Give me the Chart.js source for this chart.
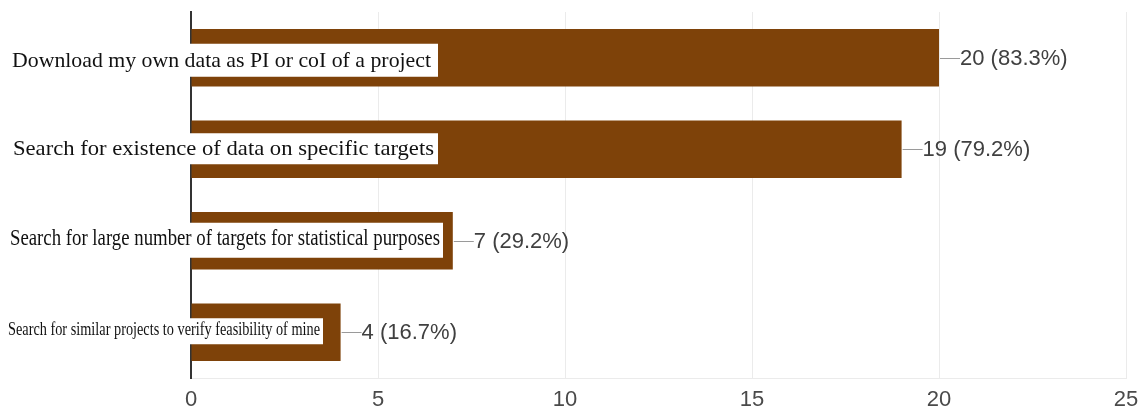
<!DOCTYPE html>
<html><head><meta charset="utf-8">
<script src="https://cdn.jsdelivr.net/npm/chart.js@4"></script>
<style>html,body{margin:0;padding:0;background:#fff}#wrap{width:1139px;height:412px;position:relative}</style>
</head><body><div id="wrap"><canvas id="c" width="1139" height="412"></canvas></div>
<script>
const categories = [
  "Download my own data as PI or coI of a project",
  "Search for existence of data on specific targets",
  "Search for large number of targets for statistical purposes",
  "Search for similar projects to verify feasibility of mine"
];
const counts = [20, 19, 7, 4];
const percents = ["83.3%", "79.2%", "29.2%", "16.7%"];
const xTicks = [0, 5, 10, 15, 20, 25];

// label box styling (offsets relative to category centre)
const labelStyle = [
  {boxL: 0, boxR: 438, top: -14, bottom: 19, tx: 12, tw: 419, size: 22, base: 9},
  {boxL: 0, boxR: 438, top: -16, bottom: 15, tx: 13, tw: 421, size: 22, base: 6},
  {boxL: 0, boxR: 443, top: -18, bottom: 17, tx: 10, tw: 430, size: 24, base: 4},
  {boxL: 0, boxR: 323, top: -14, bottom: 12, tx: 8,  tw: 312, size: 18, base: 3}
];

const labelBoxPlugin = {
  id: 'labelBoxes',
  afterDatasetsDraw(chart) {
    const ctx = chart.ctx;
    const ys = chart.scales.y;
    categories.forEach((txt, i) => {
      const s = labelStyle[i];
      const c = ys.getPixelForValue(i);
      ctx.save();
      ctx.fillStyle = '#ffffff';
      ctx.fillRect(s.boxL, c + s.top, s.boxR - s.boxL, s.bottom - s.top);
      ctx.font = s.size + 'px "Liberation Serif", "Times New Roman", serif';
      ctx.fillStyle = '#111111';
      ctx.textBaseline = 'alphabetic';
      const w = ctx.measureText(txt).width;
      ctx.translate(s.tx, c + s.base);
      ctx.scale(s.tw / w, 1);
      ctx.fillText(txt, 0, 0);
      ctx.restore();
    });
  }
};

const valueLabelPlugin = {
  id: 'valueLabels',
  afterDatasetsDraw(chart) {
    const ctx = chart.ctx;
    const meta = chart.getDatasetMeta(0);
    meta.data.forEach((bar, i) => {
      const x = bar.x, y = bar.y;
      ctx.save();
      ctx.strokeStyle = '#9a9a9a';
      ctx.lineWidth = 1;
      ctx.beginPath();
      ctx.moveTo(x + 1, Math.round(y) + 0.5);
      ctx.lineTo(x + 21, Math.round(y) + 0.5);
      ctx.stroke();
      ctx.font = '22px "Liberation Sans", Arial, sans-serif';
      ctx.fillStyle = '#404040';
      ctx.textBaseline = 'middle';
      ctx.fillText(counts[i] + ' (' + percents[i] + ')', x + 21, y + 1);
      ctx.restore();
    });
  }
};

new Chart(document.getElementById('c'), {
  type: 'bar',
  data: {
    labels: categories,
    datasets: [{
      data: counts,
      backgroundColor: '#7e4209',
      borderWidth: 0,
      categoryPercentage: 1,
      barPercentage: 0.63
    }]
  },
  options: {
    indexAxis: 'y',
    responsive: false,
    animation: false,
    layout: {padding: {top: 12, right: 0, left: 0, bottom: 0}},
    plugins: {legend: {display: false}, tooltip: {enabled: false}},
    scales: {
      x: {
        min: xTicks[0],
        max: xTicks[xTicks.length - 1],
        afterBuildTicks(scale) { scale.ticks = xTicks.map(v => ({value: v})); },
        grid: {color: '#ebebeb', drawTicks: false, lineWidth: 1},
        border: {color: '#ebebeb'},
        ticks: {
          padding: 9,
          color: '#4a4a4a',
          font: {family: '"Liberation Sans", Arial, sans-serif', size: 22}
        },
        afterFit(scale) { scale.height = 34; scale.paddingRight = 13; scale.paddingLeft = 0; }
      },
      y: {
        grid: {display: false},
        border: {color: '#333333', width: 2},
        ticks: {display: false},
        afterFit(scale) { scale.width = 191; }
      }
    }
  },
  plugins: [labelBoxPlugin, valueLabelPlugin]
});
</script>
</body></html>
